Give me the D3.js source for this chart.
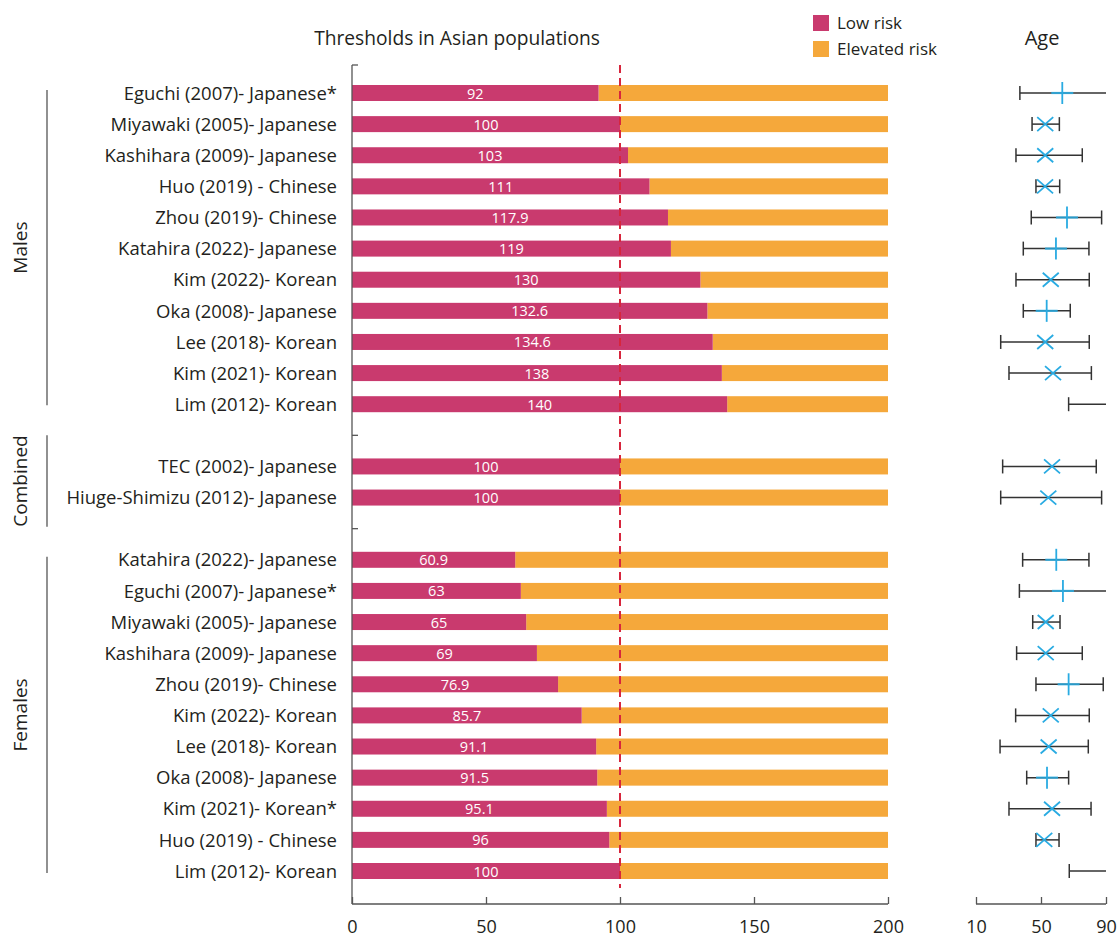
<!DOCTYPE html>
<html><head><meta charset="utf-8">
<script src="https://cdn.jsdelivr.net/npm/d3@7"></script>
<style>
body{margin:0;background:#fff;}
text{font-family:"Open Sans","Noto Sans",sans-serif;fill:#231f20;}
</style></head>
<body><svg id="c" width="1118" height="941"></svg>
<script>
// ---- data ----
const maleLabels = ["Eguchi (2007)- Japanese*","Miyawaki (2005)- Japanese","Kashihara (2009)- Japanese","Huo (2019) - Chinese","Zhou (2019)- Chinese","Katahira (2022)- Japanese","Kim (2022)- Korean","Oka (2008)- Japanese","Lee (2018)- Korean","Kim (2021)- Korean","Lim (2012)- Korean"];
const maleValues = [92,100,103,111,117.9,119,130,132.6,134.6,138,140];
const maleAgeLo = [37,44.5,34.6,46.9,44,39.1,34.6,39.1,25.2,30.3,67];
const maleAgeHi = [90,61.3,75.4,61.5,87.3,79.5,79.7,68,79.7,81,90];
const maleAgeHiOpen = [true,false,false,false,false,false,false,false,false,false,true];
const maleAgeMid = [63.1,52.6,52.6,52.5,66,59.2,56,53.5,52.6,57.4,null];
const maleAgeMark = ["mean","median","median","median","mean","mean","median","mean","median","median",null];

const combLabels = ["TEC (2002)- Japanese","Hiuge-Shimizu (2012)- Japanese"];
const combValues = [100,100];
const combAgeLo = [26.4,25.2];
const combAgeHi = [84,87.3];
const combAgeHiOpen = [false,false];
const combAgeMid = [56.8,54.5];
const combAgeMark = ["median","median"];

const femaleLabels = ["Katahira (2022)- Japanese","Eguchi (2007)- Japanese*","Miyawaki (2005)- Japanese","Kashihara (2009)- Japanese","Zhou (2019)- Chinese","Kim (2022)- Korean","Lee (2018)- Korean","Oka (2008)- Japanese","Kim (2021)- Korean*","Huo (2019) - Chinese","Lim (2012)- Korean"];
const femaleValues = [60.9,63,65,69,76.9,85.7,91.1,91.5,95.1,96,100];
const femaleAgeLo = [38.7,36.7,44.9,35,46.9,34.4,24.8,41.2,30.3,46.9,67.4];
const femaleAgeHi = [79.5,90,61.7,75.4,88.3,79.7,79.1,67,80.8,61.1,90];
const femaleAgeHiOpen = [false,true,false,false,false,false,false,false,false,false,true];
const femaleAgeMid = [59.4,63.5,52.9,52.9,67,56,54.7,53.7,56.8,52,null];
const femaleAgeMark = ["mean","mean","median","median","mean","median","median","mean","median","median",null];

const groupNames = ["Males","Combined","Females"];
const seriesNames = ["Low risk","Elevated risk"];
const xTicks = [0,50,100,150,200];
const ageTicks = [10,50,90];
const xMax = 200;
const refLine = 100;
const chartTitle = "Thresholds in Asian populations";
const ageTitle = "Age";

// ---- build rows ----
function mk(group, labels, vals, lo, hi, open, mid, mark){
  return labels.map((l,i)=>({key:group+i, group, label:l, value:vals[i], lo:lo[i], hi:hi[i], open:open[i], mid:mid[i], mark:mark[i]}));
}
const males = mk("M",maleLabels,maleValues,maleAgeLo,maleAgeHi,maleAgeHiOpen,maleAgeMid,maleAgeMark);
const comb = mk("C",combLabels,combValues,combAgeLo,combAgeHi,combAgeHiOpen,combAgeMid,combAgeMark);
const fem = mk("F",femaleLabels,femaleValues,femaleAgeLo,femaleAgeHi,femaleAgeHiOpen,femaleAgeMid,femaleAgeMark);
const rows = [...males, ...comb, ...fem];
const domain = [...males.map(d=>d.key),"gap1",...comb.map(d=>d.key),"gap2",...fem.map(d=>d.key)];

const svg = d3.select("#c");
const colLow = "#c93a6e", colHigh = "#f5a83b", blue = "#29abe2", axisCol="#555";

const y = d3.scalePoint().domain(domain).range([93,871]);
const x = d3.scaleLinear().domain([0,xMax]).range([352,888]);
const xa = d3.scaleLinear().domain([10,90]).range([976,1106]);
const barH = 16;
const axisY = 904, axisTop = 65;

// title
svg.append("text").attr("x",457).attr("y",45).attr("text-anchor","middle").style("font-size","19.2px").text(chartTitle);
svg.append("text").attr("x",1042).attr("y",45).attr("text-anchor","middle").style("font-size","20px").text(ageTitle);

// legend
const leg = svg.append("g");
[colLow,colHigh].forEach((c,i)=>{
  leg.append("rect").attr("x",813).attr("y",15+i*26).attr("width",16).attr("height",16).attr("fill",c);
  leg.append("text").attr("x",837).attr("y",29+i*26).style("font-size","17px").text(seriesNames[i]);
});

// bars
const g = svg.append("g");
g.selectAll(".hi").data(rows).join("rect")
  .attr("x",d=>x(d.value)).attr("y",d=>y(d.key)-barH/2)
  .attr("width",d=>x(xMax)-x(d.value)).attr("height",barH).attr("fill",colHigh);
g.selectAll(".lo").data(rows).join("rect")
  .attr("x",x(0)).attr("y",d=>y(d.key)-barH/2)
  .attr("width",d=>x(d.value)-x(0)).attr("height",barH).attr("fill",colLow);
g.selectAll(".bl").data(rows).join("text")
  .attr("x",d=>(x(0)+x(d.value))/2).attr("y",d=>y(d.key)).attr("dy","0.38em")
  .attr("text-anchor","middle").style("font-size","14.5px").style("fill","#fff")
  .text(d=>d.value);

// row labels
g.selectAll(".lab").data(rows).join("text")
  .attr("x",337).attr("y",d=>y(d.key)).attr("dy","0.36em").attr("text-anchor","end")
  .style("font-size","18.5px").text(d=>d.label);

// left axis line and ticks
svg.append("line").attr("x1",x(0)).attr("x2",x(0)).attr("y1",axisTop).attr("y2",axisY).attr("stroke",axisCol).attr("stroke-width",1.3);
[axisTop, y("gap1"), y("gap2")].forEach(v=>{
  svg.append("line").attr("x1",x(0)).attr("x2",x(0)+6).attr("y1",v).attr("y2",v).attr("stroke",axisCol).attr("stroke-width",1.3);
});

// bottom axis
const xAxis = d3.axisBottom(x).tickValues(xTicks).tickSize(-7).tickPadding(16);
const ax = svg.append("g").attr("transform",`translate(0,${axisY})`).call(xAxis);
ax.select(".domain").attr("stroke",axisCol).attr("stroke-width",1.3).attr("d",`M${x(0)},0H${x(xMax)}`);
ax.selectAll(".tick line").attr("stroke",axisCol).attr("stroke-width",1.3);
ax.selectAll(".tick text").style("font-size","18px").style("font-family","'Open Sans',sans-serif").attr("fill","#231f20");

// ref dashed line
svg.append("line").attr("x1",x(refLine)).attr("x2",x(refLine)).attr("y1",axisTop).attr("y2",888)
  .attr("stroke","#d7263d").attr("stroke-width",2).attr("stroke-dasharray","8,5");

// group brackets
const groups = [
  {name:groupNames[0], y1:y(males[0].key)-3, y2:y(males[males.length-1].key)+1},
  {name:groupNames[1], y1:y("gap1"), y2:y("gap2")-2},
  {name:groupNames[2], y1:y(fem[0].key)-3, y2:y(fem[fem.length-1].key)+2}
];
groups.forEach(gr=>{
  svg.append("line").attr("x1",47).attr("x2",47).attr("y1",gr.y1).attr("y2",gr.y2).attr("stroke",axisCol).attr("stroke-width",1.3);
  svg.append("text").attr("transform",`translate(27,${(gr.y1+gr.y2)/2}) rotate(-90)`).attr("text-anchor","middle")
    .style("font-size","19px").text(gr.name);
});

// age panel
const ag = svg.append("g");
rows.forEach(d=>{
  const cy = y(d.key);
  ag.append("line").attr("x1",xa(d.lo)).attr("x2",xa(d.hi)).attr("y1",cy).attr("y2",cy).attr("stroke","#333").attr("stroke-width",1.5);
  ag.append("line").attr("x1",xa(d.lo)).attr("x2",xa(d.lo)).attr("y1",cy-7).attr("y2",cy+7).attr("stroke","#333").attr("stroke-width",1.5);
  if(!d.open) ag.append("line").attr("x1",xa(d.hi)).attr("x2",xa(d.hi)).attr("y1",cy-7).attr("y2",cy+7).attr("stroke","#333").attr("stroke-width",1.5);
  if(d.mark==="mean"){
    const mx = xa(d.mid);
    ag.append("line").attr("x1",mx-11).attr("x2",mx+11).attr("y1",cy).attr("y2",cy).attr("stroke",blue).attr("stroke-width",2.2).attr("stroke-opacity",0.85);
    ag.append("line").attr("x1",mx).attr("x2",mx).attr("y1",cy-11).attr("y2",cy+11).attr("stroke",blue).attr("stroke-width",1.8);
  } else if(d.mark==="median"){
    const mx = xa(d.mid);
    ag.append("path").attr("d",`M${mx-8},${cy-7}L${mx+8},${cy+7}M${mx-8},${cy+7}L${mx+8},${cy-7}`).attr("stroke",blue).attr("stroke-width",1.8).attr("fill","none");
  }
});
const aAxis = d3.axisBottom(xa).tickValues(ageTicks).tickSize(-7).tickPadding(16);
const aax = svg.append("g").attr("transform",`translate(0,${axisY})`).call(aAxis);
aax.select(".domain").attr("stroke",axisCol).attr("stroke-width",1.3).attr("d",`M${xa(10)},0H${xa(90)}`);
aax.selectAll(".tick line").attr("stroke",axisCol).attr("stroke-width",1.3);
aax.selectAll(".tick text").style("font-size","18px").style("font-family","'Open Sans',sans-serif").attr("fill","#231f20");
</script></body></html>
